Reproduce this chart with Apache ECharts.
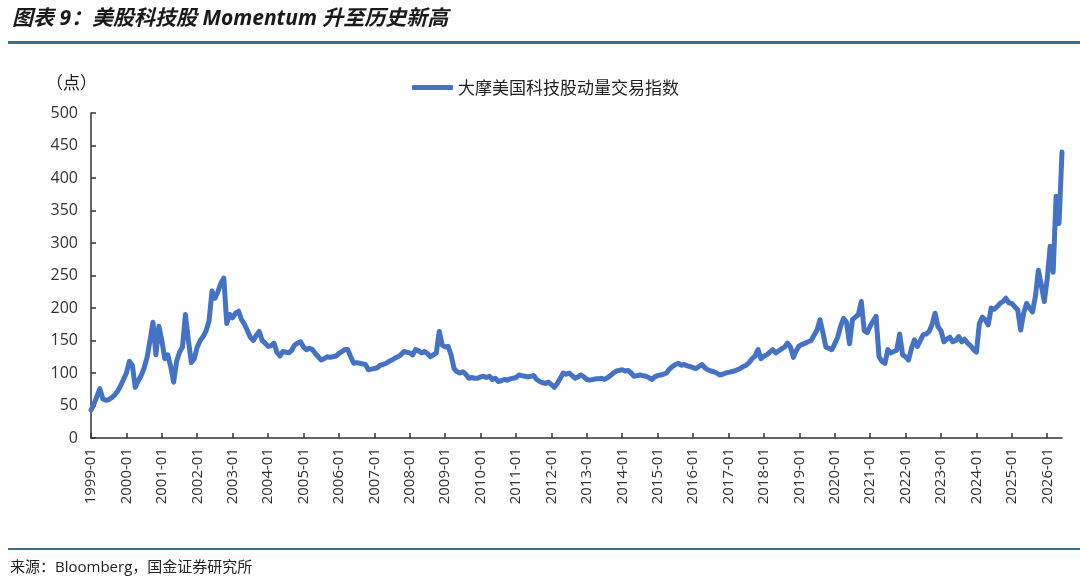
<!DOCTYPE html>
<html>
<head>
<meta charset="utf-8">
<script src="https://cdn.jsdelivr.net/npm/echarts@6/dist/echarts.min.js"></script>
<style>
  html, body { margin: 0; padding: 0; background: #fff; }
  #chart { width: 1080px; height: 585px; }
</style>
</head>
<body>
<div id="chart"></div>
<script>
// 大摩美国科技股动量交易指数，月度读数（点），1999-01 起
const vals1999_2004 = [
  43, 52, 64, 76, 60, 58, 59, 62, 66, 72, 80, 90,
  100, 118, 112, 78, 88, 96, 108, 124, 150, 178, 128, 172,
  150, 122, 128, 110, 86, 118, 132, 140, 190, 150, 116, 122,
  140, 150, 156, 165, 180, 226, 215, 225, 238, 246, 176, 190,
  185, 192, 195, 182, 175, 165, 155, 150, 158, 164, 150, 146,
  141, 142, 146, 132, 126, 133, 132, 131, 135, 143, 146, 148
];
const vals2005_2010 = [
  140, 136, 138, 136, 130, 125, 120, 122, 125, 124, 125, 126,
  130, 133, 136, 136, 125, 115, 116, 115, 114, 113, 105, 106,
  107, 108, 112, 113, 115, 118, 120, 123, 125, 128, 133, 132,
  131, 128, 136, 134, 131, 133, 130, 125, 128, 131, 164, 143,
  140, 141, 128, 107, 102, 100, 102, 98, 92, 93, 92, 92,
  94, 95, 93, 95, 90, 92, 87, 88, 90, 89, 91, 92
];
const vals2011_2016 = [
  93, 97, 96, 95, 94, 95, 96, 90, 87, 85, 84, 86,
  82, 78, 84, 92, 100, 98, 100, 96, 92, 94, 97, 94,
  90, 89, 90, 91, 91, 92, 90, 93, 96, 100, 103, 104,
  105, 103, 104, 100, 95, 96, 97, 96, 95, 93, 90, 94,
  96, 97, 98, 100, 106, 110, 113, 115, 112, 113, 111, 110,
  108, 107, 110, 113, 108, 105, 103, 102, 100, 97, 98, 100
];
const vals2017_2022 = [
  101, 102, 103, 105, 107, 110, 112, 116, 122, 126, 136, 122,
  126, 128, 132, 136, 131, 134, 137, 140, 146, 140, 124, 135,
  142, 144, 146, 148, 150, 158, 166, 182, 162, 140, 138, 136,
  145, 155, 172, 184, 178, 145, 182, 186, 190, 210, 165, 162,
  172, 180, 187, 125, 118, 115, 136, 131, 133, 135, 160, 128,
  125, 120, 138, 151, 141, 150, 159, 160, 164, 175, 192, 171
];
const vals2023_2026 = [
  165, 148, 152, 155, 148, 150, 156, 148, 152, 146, 142, 136,
  132, 176, 186, 182, 174, 200, 198, 202, 207, 210, 215, 208,
  207, 202, 197, 166, 192, 207, 200, 194, 218, 258, 235, 210,
  245, 295, 255, 372, 330, 440
];
const seriesValues = [].concat(vals1999_2004, vals2005_2010, vals2011_2016, vals2017_2022, vals2023_2026);

const startYear = 1999;
const months = [];
for (let i = 0; i < seriesValues.length; i++) {
  const y = startYear + Math.floor(i / 12);
  const m = (i % 12) + 1;
  months.push(y + '-' + (m < 10 ? '0' + m : m));
}
const yTicks = [0, 50, 100, 150, 200, 250, 300, 350, 400, 450, 500];

const seriesName = '大摩美国科技股动量交易指数';
const titleText = '图表 9：美股科技股 Momentum 升至历史新高';
const sourceText = '来源：Bloomberg，国金证券研究所';

const cjk = '"Open Sans", "Noto Sans CJK SC", sans-serif';
const chart = echarts.init(document.getElementById('chart'));

chart.setOption({
  animation: false,
  backgroundColor: '#fff',
  grid: { left: 91, right: 18, top: 113, bottom: 147 },
  legend: {
    left: 407,
    top: 74,
    icon: 'roundRect',
    itemWidth: 41,
    itemHeight: 5,
    itemGap: 6,
    textStyle: { fontSize: 17, color: '#222', fontFamily: '"Noto Sans CJK SC", sans-serif' },
    data: [seriesName]
  },
  xAxis: {
    type: 'category',
    data: months,
    boundaryGap: false,
    axisLine: { lineStyle: { color: '#333', width: 1.5 } },
    axisTick: { inside: true, length: 5, interval: 11, lineStyle: { color: '#333', width: 1.5 } },
    axisLabel: {
      interval: 11,
      rotate: 90,
      margin: 10,
      fontSize: 15,
      color: '#333',
      fontFamily: cjk
    }
  },
  yAxis: {
    type: 'value',
    min: yTicks[0],
    max: yTicks[yTicks.length - 1],
    interval: 50,
    name: '（点）',
    nameLocation: 'end',
    nameGap: 20,
    nameTextStyle: { fontSize: 17, color: '#222', align: 'right', padding: [0, -6, 0, 0], fontFamily: cjk },
    splitLine: { show: false },
    axisLine: { show: true, lineStyle: { color: '#333', width: 1.5 } },
    axisTick: { show: true, inside: true, length: 5, lineStyle: { color: '#333', width: 1.5 } },
    axisLabel: { fontSize: 16, color: '#333', margin: 13, fontFamily: cjk }
  },
  series: [{
    name: seriesName,
    type: 'line',
    data: seriesValues,
    showSymbol: false,
    symbol: 'none',
    lineStyle: { color: '#4472C4', width: 5, join: 'round', cap: 'round' },
    itemStyle: { color: '#4472C4' }
  }],
  graphic: [
    {
      type: 'text',
      left: 12,
      top: 9,
      style: {
        text: titleText,
        fontSize: 21,
        fontWeight: 'bold',
        fontStyle: 'italic',
        fill: '#1a1a1a',
        fontFamily: cjk
      }
    },
    {
      type: 'rect',
      shape: { x: 8, y: 41, width: 1072, height: 3 },
      style: { fill: '#3b6e8a' }
    },
    {
      type: 'rect',
      shape: { x: 8, y: 548, width: 1072, height: 2 },
      style: { fill: '#3b6e8a' }
    },
    {
      type: 'text',
      left: 10,
      top: 560,
      style: {
        text: sourceText,
        fontSize: 15,
        fill: '#222',
        fontFamily: cjk
      }
    }
  ]
});
</script>
</body>
</html>
